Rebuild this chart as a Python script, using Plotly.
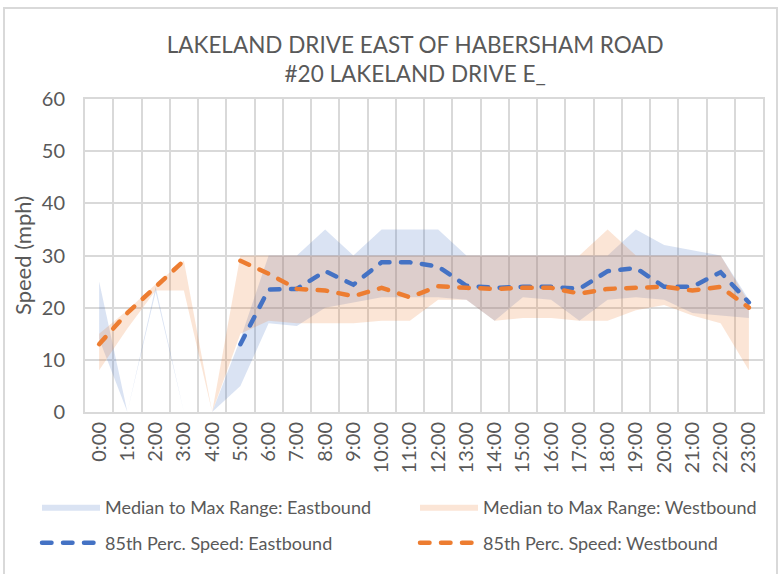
import plotly.graph_objects as go

# Hour-of-day categories
hours = [f"{h}:00" for h in range(24)]

# Eastbound: median and max speeds per hour (mph)
east_median = [14, 0, 23, 0, 0, 5, 17, 16.5, 20, 21, 22, 22, 22, 21.5, 17.5, 22, 21.5, 17.5, 21.5, 22, 21.5, 19, 18.5, 18]
east_max = [25, 0, 24, 0, 0, 14, 30, 30, 35, 30, 35, 35, 35, 30, 30, 30, 30, 30, 30, 35, 32, 31, 30, 21.5]

# Westbound: median and max speeds per hour (mph)
west_median = [8, 16, 23.3, 23.3, 0, 15, 17.5, 17, 17, 17, 17.5, 17.5, 21.5, 21.5, 17.5, 18, 18, 17.5, 17.5, 19.5, 20.5, 18.5, 17, 8]
west_max = [15, 19.5, 24.5, 29, 0, 30, 30, 30, 30, 30, 30, 30, 30, 30, 30, 30, 30, 30, 35, 30, 30, 30, 30, 21]

# 85th percentile speeds (mph); None = no reading
east_85 = [None, None, None, None, None, 13, 23.5, 23.6, 27, 24.4, 28.7, 28.7, 27.9, 24.2, 23.8, 24.0, 24.0, 23.6, 27.0, 27.6, 24.0, 24.0, 26.8, 21.0]
west_85 = [13, 19, 24, 29, None, 29, 26.5, 23.6, 23.3, 22.2, 23.8, 22.0, 24.1, 23.8, 23.6, 23.8, 23.8, 22.7, 23.6, 23.8, 24.0, 23.3, 24.0, 20.0]

BLUE = "#4472C4"
ORANGE = "#ED7D31"
BLUE_FILL = "rgba(68,114,196,0.2)"
ORANGE_FILL = "rgba(237,125,49,0.2)"
TEXT = "#595959"
GRID = "#D9D9D9"
FONT = "Lato"

fig = go.Figure()

# Median-to-max bands: invisible median line, then max filled down to it
fig.add_trace(go.Scatter(x=hours, y=east_median, mode="lines", line=dict(width=0),
                         showlegend=False, hoverinfo="skip"))
fig.add_trace(go.Scatter(x=hours, y=east_max, mode="lines", line=dict(width=0),
                         fill="tonexty", fillcolor=BLUE_FILL,
                         name="Median to Max Range: Eastbound", legend="legend"))
fig.add_trace(go.Scatter(x=hours, y=west_median, mode="lines", line=dict(width=0),
                         showlegend=False, hoverinfo="skip"))
fig.add_trace(go.Scatter(x=hours, y=west_max, mode="lines", line=dict(width=0),
                         fill="tonexty", fillcolor=ORANGE_FILL,
                         name="Median to Max Range: Westbound", legend="legend2"))

# 85th percentile dashed lines
dash = "9.5px,11.5px"
fig.add_trace(go.Scatter(x=hours, y=east_85, mode="lines", connectgaps=False,
                         line=dict(color=BLUE, width=4.5, dash=dash),
                         name="85th Perc. Speed: Eastbound", legend="legend3"))
fig.add_trace(go.Scatter(x=hours, y=west_85, mode="lines", connectgaps=False,
                         line=dict(color=ORANGE, width=4.5, dash=dash),
                         name="85th Perc. Speed: Westbound", legend="legend4"))

legend_common = dict(orientation="h", xanchor="left", yanchor="middle",
                     font=dict(family=FONT, size=18, color=TEXT),
                     bgcolor="rgba(0,0,0,0)", itemwidth=58,
                     itemclick=False, itemdoubleclick=False)

col1_x = (37 - 85) / 678
col2_x = (415 - 85) / 678
row1_y = (412 - 507) / 313
row2_y = (412 - 543) / 313

fig.update_layout(
    width=784, height=574,
    margin=dict(l=85, r=21, t=99, b=162),
    paper_bgcolor="white", plot_bgcolor="white",
    font=dict(family=FONT, color=TEXT),
    title=dict(text="LAKELAND DRIVE EAST OF HABERSHAM ROAD<br>#20 LAKELAND DRIVE E_",
               x=0.487, xref="paper", xanchor="center",
               y=1 - 53 / 574, yref="container", yanchor="top",
               font=dict(family=FONT, size=22.5, color=TEXT)),
    xaxis=dict(type="category", range=[-0.5, 23.5], tickson="boundaries",
               showgrid=True, gridcolor=GRID, gridwidth=2,
               showline=True, linecolor=GRID, linewidth=2, mirror=True,
               ticks="", tickangle=-90,
               tickfont=dict(family=FONT, size=20, color=TEXT)),
    yaxis=dict(range=[0, 60], dtick=10, showgrid=True, gridcolor=GRID, gridwidth=2,
               showline=True, linecolor=GRID, linewidth=2, mirror=True,
               zeroline=False, ticks="", ticklabelstandoff=14,
               tickfont=dict(family=FONT, size=20, color=TEXT),
               title=dict(text="Speed (mph)", standoff=4,
                          font=dict(family=FONT, size=22, color=TEXT))),
    legend=dict(x=col1_x, y=row1_y, **legend_common),
    legend2=dict(x=col2_x, y=row1_y, **legend_common),
    legend3=dict(x=col1_x, y=row2_y, **legend_common),
    legend4=dict(x=col2_x, y=row2_y, **legend_common),
    shapes=[dict(type="rect", xref="paper", yref="paper",
                 x0=(4 - 85) / 678, x1=(777 - 85) / 678,
                 y0=(412 - 590) / 313, y1=(412 - 8) / 313,
                 line=dict(color=GRID, width=2), layer="below")],
    showlegend=True,
)

# Rounded dash ends
post = """
document.querySelectorAll('.scatterlayer .js-line, .legendlines path').forEach(function(p){
  p.style.strokeLinecap = 'round';
});
"""
fig.write_html("out.html", post_script=post)
